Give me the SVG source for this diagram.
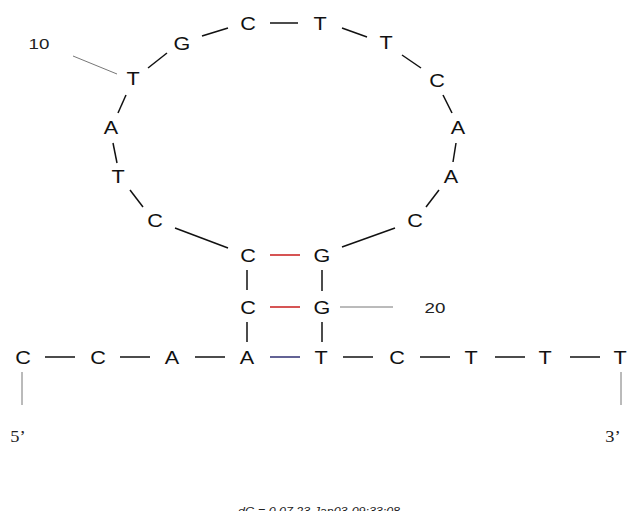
<svg xmlns="http://www.w3.org/2000/svg" width="628" height="511" viewBox="0 0 628 511">
<style>
.n{font-family:"Liberation Sans",Arial,sans-serif;font-size:18px;fill:#111;text-anchor:middle}
.lab{font-family:"Liberation Sans",Arial,sans-serif;font-size:15px;fill:#222;text-anchor:middle}
.end{font-family:"Liberation Serif","Times New Roman",serif;font-size:16px;fill:#222;text-anchor:middle}
.dg{font-family:"Liberation Sans",Arial,sans-serif;font-size:11px;font-style:italic;fill:#222;text-anchor:middle}
.bb{stroke:#111;stroke-width:1.5;fill:none}
.tick{stroke:#777;stroke-width:1;fill:none}
.gc{stroke:#cc2a2a;stroke-width:1.6}
.at{stroke:#3c3c7a;stroke-width:1.6}
</style>
<rect width="628" height="511" fill="#fff"/>
<g id="connectors">
<line class="bb" x1="45" y1="357" x2="75" y2="357"/>
<line class="bb" x1="120" y1="357" x2="150" y2="357"/>
<line class="bb" x1="195" y1="357" x2="225" y2="357"/>
<line class="bb" x1="343" y1="357" x2="373" y2="357"/>
<line class="bb" x1="420" y1="357" x2="450" y2="357"/>
<line class="bb" x1="495" y1="357" x2="525" y2="357"/>
<line class="bb" x1="570" y1="357" x2="600" y2="357"/>
<line class="at" x1="270" y1="357" x2="300" y2="357"/>
<line class="gc" x1="270" y1="255" x2="300" y2="255"/>
<line class="gc" x1="270" y1="307" x2="300" y2="307"/>
<line class="bb" x1="247" y1="322" x2="247" y2="342"/>
<line class="bb" x1="247" y1="270" x2="247" y2="290"/>
<line class="bb" x1="322" y1="322" x2="322" y2="342"/>
<line class="bb" x1="322" y1="270" x2="322" y2="291"/>
<line class="bb" x1="228" y1="248" x2="175" y2="228"/>
<line class="bb" x1="143" y1="207" x2="130" y2="190"/>
<line class="bb" x1="117" y1="163" x2="113" y2="143"/>
<line class="bb" x1="118" y1="113" x2="126" y2="95"/>
<line class="bb" x1="148" y1="68" x2="167" y2="53"/>
<line class="bb" x1="202" y1="36" x2="228" y2="28"/>
<line class="bb" x1="270" y1="23" x2="298" y2="23"/>
<line class="bb" x1="342" y1="28" x2="367" y2="37"/>
<line class="bb" x1="402" y1="55" x2="421" y2="68"/>
<line class="bb" x1="443" y1="95" x2="452" y2="113"/>
<line class="bb" x1="456" y1="143" x2="453" y2="162"/>
<line class="bb" x1="439" y1="190" x2="426" y2="207"/>
<line class="bb" x1="395" y1="228" x2="342" y2="247"/>
<line class="tick" x1="22" y1="372" x2="22" y2="405"/>
<line class="tick" x1="621" y1="372" x2="621" y2="405"/>
<line class="tick" x1="73" y1="56" x2="117" y2="74"/>
<line class="tick" x1="340" y1="307" x2="393" y2="307"/>
</g>
<g id="n1"><text class="n" transform="translate(23,363.5) scale(1.2,1)">C</text></g>
<g id="n2"><text class="n" transform="translate(98,363.5) scale(1.2,1)">C</text></g>
<g id="n3"><text class="n" transform="translate(172,363.5) scale(1.2,1)">A</text></g>
<g id="n4"><text class="n" transform="translate(247,363.5) scale(1.2,1)">A</text></g>
<g id="n5"><text class="n" transform="translate(248,261.5) scale(1.2,1)">C</text></g>
<g id="n5b"><text class="n" transform="translate(248,313.5) scale(1.2,1)">C</text></g>
<g id="n6"><text class="n" transform="translate(155,226.5) scale(1.2,1)">C</text></g>
<g id="n7"><text class="n" transform="translate(118,182.5) scale(1.2,1)">T</text></g>
<g id="n8"><text class="n" transform="translate(111,133.5) scale(1.2,1)">A</text></g>
<g id="n10"><text class="n" transform="translate(133,84.5) scale(1.2,1)">T</text></g>
<g id="n11"><text class="n" transform="translate(182,49.5) scale(1.2,1)">G</text></g>
<g id="n12"><text class="n" transform="translate(248,29.5) scale(1.2,1)">C</text></g>
<g id="n13"><text class="n" transform="translate(320,29.5) scale(1.2,1)">T</text></g>
<g id="n14"><text class="n" transform="translate(386,48.5) scale(1.2,1)">T</text></g>
<g id="n15"><text class="n" transform="translate(437,86.5) scale(1.2,1)">C</text></g>
<g id="n16"><text class="n" transform="translate(458,133.5) scale(1.2,1)">A</text></g>
<g id="n17"><text class="n" transform="translate(451,182.5) scale(1.2,1)">A</text></g>
<g id="n18"><text class="n" transform="translate(415,226.5) scale(1.2,1)">C</text></g>
<g id="n19"><text class="n" transform="translate(322,261.5) scale(1.2,1)">G</text></g>
<g id="n20"><text class="n" transform="translate(322,313.5) scale(1.2,1)">G</text></g>
<g id="n21"><text class="n" transform="translate(321,363.5) scale(1.2,1)">T</text></g>
<g id="n22"><text class="n" transform="translate(397,363.5) scale(1.2,1)">C</text></g>
<g id="n23"><text class="n" transform="translate(471,363.5) scale(1.2,1)">T</text></g>
<g id="n24"><text class="n" transform="translate(545,363.5) scale(1.2,1)">T</text></g>
<g id="n25"><text class="n" transform="translate(620,363.5) scale(1.2,1)">T</text></g>
<g id="label10"><text class="lab" transform="translate(39,48.5) scale(1.25,1)">10</text></g>
<g id="label20"><text class="lab" transform="translate(435,312.5) scale(1.25,1)">20</text></g>
<g id="end5"><text class="end" transform="translate(18,442) scale(1.15,1)">5’</text></g>
<g id="end3"><text class="end" transform="translate(613,442) scale(1.15,1)">3’</text></g>
<text class="dg" x="319" y="515" textLength="162" lengthAdjust="spacingAndGlyphs">dG = 0.07 23 Jan03-09:33:08</text>
</svg>
